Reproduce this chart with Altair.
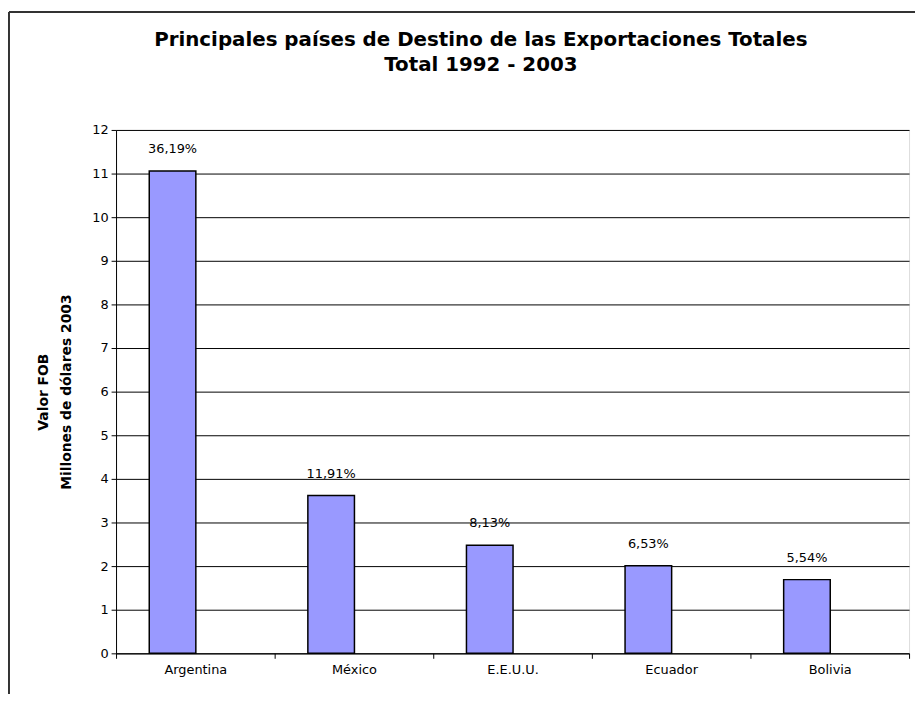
import altair as alt
import pandas as pd

countries = ["Argentina", "México", "E.E.U.U.", "Ecuador", "Bolivia"]
values = [11.06, 3.62, 2.48, 2.01, 1.69]
pct_labels = ["36,19%", "11,91%", "8,13%", "6,53%", "5,54%"]
y_ticks = list(range(0, 13))

title_lines = ["Principales países de Destino de las Exportaciones Totales", "Total 1992 - 2003"]
y_title = ["Valor FOB", "Millones de dólares 2003"]

df = pd.DataFrame({"pais": countries, "valor": values, "pct": pct_labels})

FONT2 = "DejaVu Sans"

x_enc = alt.X("pais:N", sort=countries,
              scale=alt.Scale(paddingInner=0, paddingOuter=0),
              axis=alt.Axis(title=None, tickBand="extent", labelAngle=0, labelFont=FONT2,
                            labelFontSize=13, labelColor="black", labelPadding=5,
                            domainColor="black", tickColor="black", tickSize=5, grid=False))
y_enc = alt.Y("valor:Q", scale=alt.Scale(domain=[0, 12], nice=False),
              axis=alt.Axis(values=y_ticks, grid=True, gridColor="black", gridWidth=1,
                            domainColor="black", tickColor="black", tickSize=5,
                            labelFont=FONT2, labelFontSize=13, labelColor="black", labelPadding=3,
                            title=y_title, titleFont=FONT2, titleFontSize=14, titleFontWeight="bold",
                            titleColor="black", titleAngle=-90, titleX=-73, titleY=264,
                            titleAlign="center", titleBaseline="middle", titleLineHeight=23))

bars = alt.Chart(df).mark_bar(size=47, xOffset=-23, fill="#9999FF", stroke="black",
                              strokeWidth=1.5).encode(x=x_enc, y=y_enc)

labels = alt.Chart(df).mark_text(xOffset=-23, dy=-15, baseline="bottom", font=FONT2,
                                 fontSize=13, color="black").encode(
    x=alt.X("pais:N", sort=countries), y="valor:Q", text="pct:N")

frame_data = alt.Data(values=[{"k": 1}])
frame_left = alt.Chart(frame_data).mark_rule(color="#333333", strokeWidth=2).encode(
    x=alt.value(-108), y=alt.value(-119), y2=alt.value(700))
frame_top = alt.Chart(frame_data).mark_rule(color="#333333", strokeWidth=2).encode(
    x=alt.value(-108), x2=alt.value(900), y=alt.value(-119))

chart = alt.layer(bars, labels, frame_left, frame_top).properties(
    width=800, height=528,
    autosize=alt.AutoSizeParams(type="none"),
    padding={"left": 109, "top": 120, "right": 6, "bottom": 38},
    title=alt.TitleParams(text=title_lines, font=FONT2, fontSize=20, fontWeight="bold",
                          color="black", anchor="middle", dx=-32, offset=-85,
                          lineHeight=26, baseline="bottom"),
).configure_view(stroke=None).configure(background="white")

chart.save("out.html", embed_options={"renderer": "svg", "actions": False})
